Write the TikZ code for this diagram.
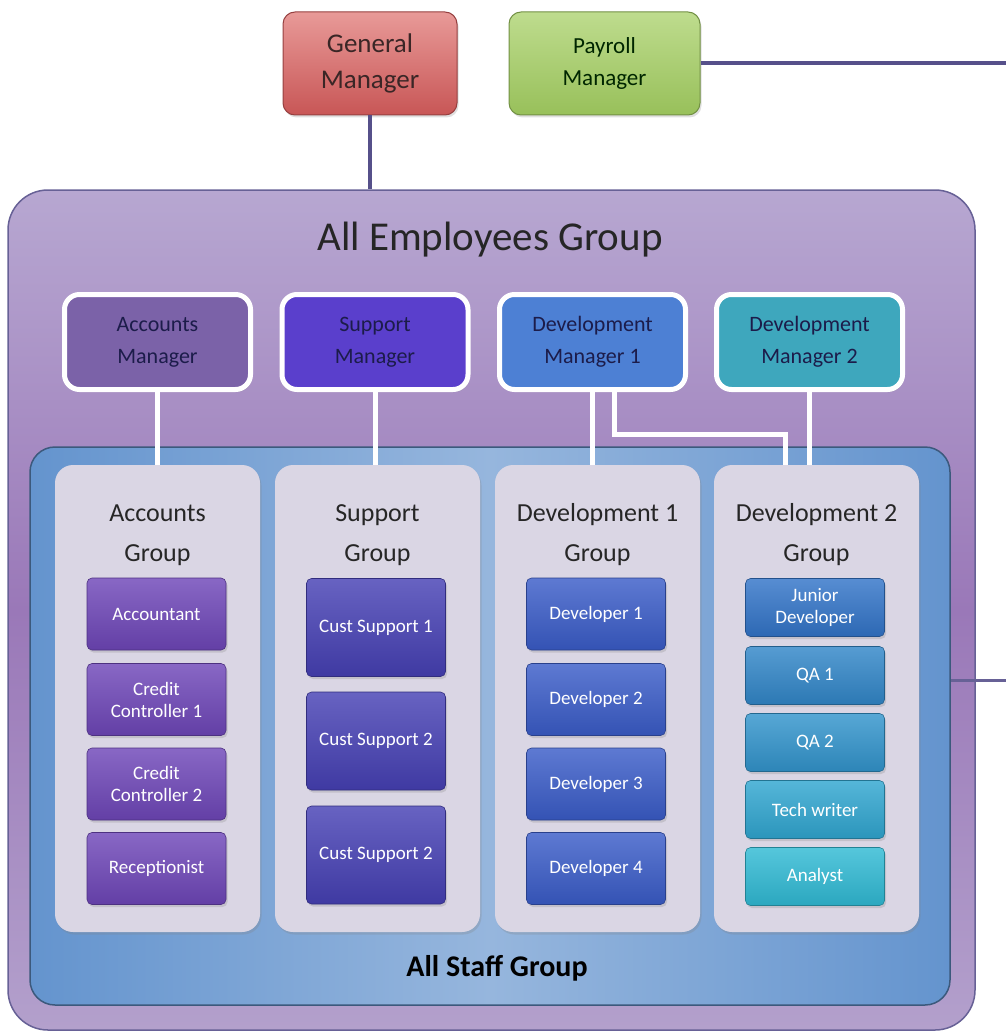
\documentclass[tikz,border=0pt]{standalone}
\usepackage{fontspec}
\setmainfont{Carlito}
\usetikzlibrary{shadows}

\definecolor{empline}{HTML}{56508A}
\definecolor{emptop}{HTML}{B7A7D1}
\definecolor{empmid}{HTML}{9A78B8}
\definecolor{empbot}{HTML}{B3A0CC}
\definecolor{staffedge}{HTML}{6494CE}
\definecolor{staffmid}{HTML}{96B6DD}
\definecolor{grpfill}{HTML}{DAD6E4}
\definecolor{mgrtext}{HTML}{1C1C4A}
\definecolor{gmtop}{HTML}{E89A98}
\definecolor{gmbot}{HTML}{C85656}
\definecolor{gmtext}{HTML}{3A2626}
\definecolor{pmtop}{HTML}{BEDC8E}
\definecolor{pmbot}{HTML}{98C05A}
\definecolor{acc}{HTML}{7B62A8}
\definecolor{sup}{HTML}{5A3FCC}
\definecolor{devA}{HTML}{4D80D4}
\definecolor{devB}{HTML}{3EA7BD}
\definecolor{accpost}{HTML}{6E46B8}
\definecolor{suppost}{HTML}{4640B4}
\definecolor{devpost}{HTML}{3A5CC8}
\definecolor{jun}{HTML}{3274C8}
\definecolor{qaA}{HTML}{3186C8}
\definecolor{qaB}{HTML}{3294CC}
\definecolor{tech}{HTML}{30A6D0}
\definecolor{ana}{HTML}{30BAD4}

\begin{document}
\begin{tikzpicture}[
    x=1pt, y=-1pt,
    shade/.style={drop shadow={opacity=.25, shadow xshift=1.5pt, shadow yshift=-2.5pt}},
    boss/.style={rounded corners=12pt, inner sep=0pt, align=center, line width=1pt, shade},
    mgr/.style={rounded corners=15pt, inner sep=0pt, align=center, draw=white, line width=5pt,
      fill=#1, text=mgrtext, minimum width=186pt, minimum height=95pt,
      font=\fontsize{22}{32}\selectfont, shade},
    grp/.style={rounded corners=18pt, fill=grpfill, minimum width=205pt, minimum height=467pt, shade},
    gtitle/.style={align=center, text=black!85, font=\fontsize{26}{40}\selectfont},
    post/.style={rounded corners=5pt, inner sep=0pt, align=center, minimum width=139pt,
      top color=#1!82!white, bottom color=#1!90!black, draw=#1!70!black, line width=.6pt,
      text=white, font=\fontsize{19}{22}\selectfont, shade},
    link/.style={white, line width=5pt},
    feed/.style={empline, line width=4pt}
  ]
  \useasboundingbox (0,0) rectangle (1006,1035);

  % top level
  \node[boss, minimum width=174pt, minimum height=103pt, draw=gmbot!75!black,
    top color=gmtop, bottom color=gmbot, text=gmtext,
    font=\fontsize{27}{36}\selectfont] (gm) at (370,63.5) {General\\Manager};
  \node[boss, minimum width=191pt, minimum height=103pt, draw=pmbot!75!black,
    top color=pmtop, bottom color=pmbot, text=black!85!green,
    font=\fontsize{23}{32}\selectfont] (pm) at (604.5,63.5) {Payroll\\Manager};

  % groups
  \node[rounded corners=40pt, draw=empline!90, line width=1.5pt, minimum width=967pt, minimum height=840pt,
    top color=emptop, bottom color=empbot, middle color=empmid] (aeg) at (491.5,610) {};
  \node[text=black!85, font=\fontsize{41}{48}\selectfont] (aeg-t) at (490,240) {All Employees Group};
  \node[rounded corners=25pt, draw=staffedge!60!black, line width=1.5pt, minimum width=920pt, minimum height=558pt,
    left color=staffedge, right color=staffedge, middle color=staffmid] (asg) at (490,726) {};
  \node[font=\fontsize{30}{34}\selectfont\bfseries] (asg-t) at (497,968) {All Staff Group};

  \draw[feed] (gm.south) -- (gm.south |- aeg.north);
  \coordinate (pr) at (1006,63.5);
  \coordinate (sr) at (1006,680);
  \draw[feed] (pm.east) -- (pr);
  \draw[empline!90, line width=3pt] (asg.east |- sr) -- (sr);

  % managers
  \node[mgr=acc] (am) at (157.5,342) {Accounts\\Manager};
  \node[mgr=sup] (sm) at (375,342) {Support\\Manager};
  \node[mgr=devA] (dm1) at (592.5,342) {Development\\Manager 1};
  \node[mgr=devB] (dm2) at (809.5,342) {Development\\Manager 2};

  \node[grp] (ag) at (157.5,698.5) {};
  \node[grp] (sg) at (377.5,698.5) {};
  \node[grp] (dg1) at (597.5,698.5) {};
  \node[grp] (dg2) at (816.5,698.5) {};
  \node[gtitle] (ag-t) at (157.5,535) {Accounts\\Group};
  \node[gtitle] (sg-t) at (377.5,535) {Support\\Group};
  \node[gtitle] (dg1-t) at (597.5,535) {Development 1\\Group};
  \node[gtitle] (dg2-t) at (816.5,535) {Development 2\\Group};

  \draw[link] (am.south) -- (am.south |- ag.north);
  \draw[link] (sm.south) -- (sm.south |- sg.north);
  \draw[link] (dm1.south) -- (dm1.south |- dg1.north);
  \draw[link] (dm2.south) -- (dm2.south |- dg2.north);
  \draw[link] ([xshift=22pt]dm1.south) -- ++(0,42) -| ([xshift=-31pt]dg2.north);

  % staff
  \foreach \y/\t [count=\i] in {614/Accountant, 699.5/{Credit\\Controller 1},
      784/{Credit\\Controller 2}, 868.5/Receptionist}
    \node[post=accpost, minimum height=72pt] (a\i) at (156.5,\y) {\t};
  \foreach \y/\t [count=\i] in {627.5/Cust Support 1, 741/Cust Support 2, 855/Cust Support 2}
    \node[post=suppost, minimum height=98pt] (s\i) at (376,\y) {\t};
  \foreach \y [count=\i] in {614, 699.5, 784, 868.5}
    \node[post=devpost, minimum height=72pt] (d\i) at (596,\y) {Developer \i};
  \foreach \y/\t/\c [count=\i] in {607.5/{Junior\\Developer}/jun, 675.5/QA 1/qaA, 742.5/QA 2/qaB,
      809.5/Tech writer/tech, 876.5/Analyst/ana}
    \node[post=\c, minimum height=58pt] (e\i) at (815,\y) {\t};
\end{tikzpicture}
\end{document}
